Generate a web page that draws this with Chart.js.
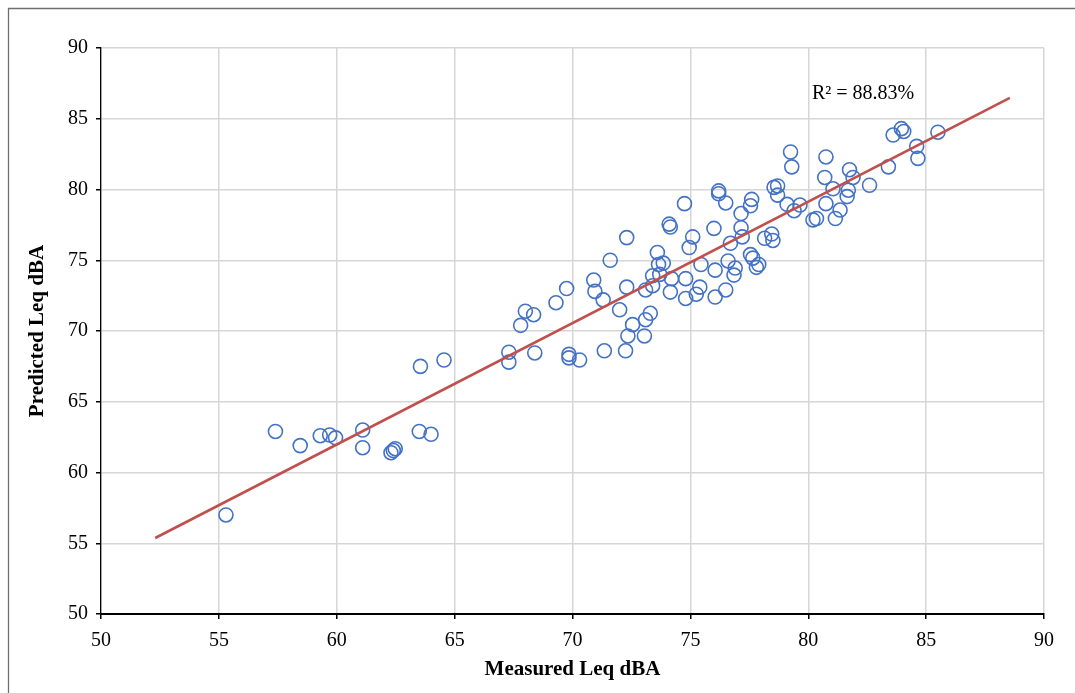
<!DOCTYPE html>
<html>
<head>
<meta charset="utf-8">
<script src="https://cdn.jsdelivr.net/npm/chart.js@4.4.1/dist/chart.umd.min.js"></script>
<style>
  html, body { margin: 0; padding: 0; background: #fff; }
  #wrap { position: relative; width: 1075px; height: 693px; }
  canvas { display: block; }
</style>
</head>
<body>
<div id="wrap"><canvas id="c" width="1075" height="693"></canvas></div>
<script>
// ---- Data ----
const measured = [
  55.3, 57.4, 58.45, 59.3, 59.7, 59.95, 61.1, 61.1, 62.3, 62.4, 62.48, 63.5, 64.0, 63.55, 64.55,
  67.3, 67.3, 68.4, 67.8, 68.0, 68.35, 69.3, 69.75, 69.85, 69.85, 70.3, 70.9, 70.95, 71.3, 71.35,
  71.6, 72.0, 72.25, 72.3, 72.3, 72.35, 72.55, 73.1, 73.1, 73.05, 73.3, 73.4, 73.4, 73.6, 73.65,
  73.85, 73.7, 74.1, 74.15, 74.15, 74.2, 74.75, 74.8, 74.8, 74.95, 75.1, 75.25, 75.4, 75.45, 76.0,
  76.05, 76.05, 76.2, 76.2, 76.5, 76.5, 76.6, 76.7, 76.85, 76.9, 77.15, 77.15, 77.2, 77.55, 77.6,
  77.55, 77.65, 77.8, 77.9, 78.15, 78.45, 78.5, 78.55, 78.7, 78.7, 79.1, 79.25, 79.3, 79.4, 79.65,
  80.2, 80.35, 80.7, 80.75, 80.75, 81.05, 81.15, 81.35, 81.7, 81.65, 81.75, 81.9, 82.6, 83.4, 83.6,
  83.95, 84.05, 84.6, 84.65, 85.5
];
const predicted = [
  57.0, 62.9, 61.9, 62.6, 62.65, 62.45, 63.0, 61.75, 61.4, 61.55, 61.68, 62.9, 62.7, 67.5, 67.95,
  68.5, 67.8, 68.45, 70.4, 71.4, 71.15, 72.0, 73.0, 68.35, 68.1, 67.95, 73.6, 72.8, 72.2, 68.6,
  75.0, 71.5, 68.6, 76.6, 73.1, 69.65, 70.45, 72.9, 70.8, 69.65, 71.25, 73.9, 73.2, 75.55, 74.7,
  74.8, 74.0, 77.55, 77.35, 72.75, 73.7, 79.0, 73.7, 72.3, 75.9, 76.65, 72.6, 73.1, 74.7, 77.25,
  74.3, 72.4, 79.9, 79.7, 79.05, 72.9, 74.95, 76.2, 73.95, 74.45, 78.3, 77.3, 76.65, 78.85, 79.3,
  75.4, 75.15, 74.5, 74.7, 76.55, 76.85, 76.4, 80.15, 80.25, 79.6, 78.95, 82.65, 81.6, 78.5, 78.9,
  77.85, 77.95, 80.85, 82.3, 79.0, 80.05, 77.95, 78.55, 79.95, 79.5, 81.4, 80.85, 80.3, 81.6, 83.85,
  84.3, 84.1, 83.05, 82.2, 84.05
];
const trendX = [52.3, 88.55];
const trendY = [55.37, 86.47];
const axisTicks = [50, 55, 60, 65, 70, 75, 80, 85, 90];
const rSquaredLabel = 'R² = 88.83%';
const xTitle = 'Measured Leq dBA';
const yTitle = 'Predicted Leq dBA';

// ---- Build ----
const SERIF = "'Liberation Serif', 'Times New Roman', serif";
const points = measured.map((x, i) => ({ x: x, y: predicted[i] }));
const trend = trendX.map((x, i) => ({ x: x, y: trendY[i] }));

const framePlugin = {
  id: 'frame',
  beforeDraw(chart) {
    const ctx = chart.ctx;
    ctx.save();
    ctx.fillStyle = '#ffffff';
    ctx.fillRect(0, 0, chart.width, chart.height);
    ctx.strokeStyle = '#6e6e6e';
    ctx.lineWidth = 1.3;
    ctx.beginPath();
    ctx.moveTo(8.5, chart.height + 5);
    ctx.lineTo(8.5, 8.5);
    ctx.lineTo(chart.width + 5, 8.5);
    ctx.stroke();
    ctx.restore();
  },
  afterDraw(chart) {
    const ctx = chart.ctx;
    ctx.save();
    ctx.font = '20px ' + SERIF;
    ctx.fillStyle = '#000';
    ctx.textAlign = 'left';
    ctx.textBaseline = 'alphabetic';
    ctx.fillText(rSquaredLabel, 812, 99);
    ctx.restore();
  }
};

new Chart(document.getElementById('c'), {
  type: 'scatter',
  data: {
    datasets: [
      {
        type: 'line',
        label: 'Trend',
        data: trend,
        borderColor: '#C0504D',
        borderWidth: 2.6,
        pointRadius: 0,
        fill: false,
        order: 0
      },
      {
        label: 'Points',
        data: points,
        pointStyle: 'circle',
        pointRadius: 7,
        borderWidth: 1.6,
        borderColor: '#4472C4',
        backgroundColor: 'rgba(0,0,0,0)',
        showLine: false,
        order: 1
      }
    ]
  },
  options: {
    responsive: false,
    animation: false,
    events: [],
    layout: { padding: { top: 48, right: 31, bottom: 0, left: 0 } },
    plugins: { legend: { display: false }, tooltip: { enabled: false } },
    scales: {
      x: {
        type: 'linear',
        min: 50, max: 90,
        afterBuildTicks(scale) { scale.ticks = axisTicks.map(v => ({ value: v })); },
        afterFit(scale) { scale.height = 79; },
        ticks: { color: '#000', font: { family: SERIF, size: 20 }, padding: 10, maxRotation: 0 },
        grid: { color: '#d6d6d6', lineWidth: 1.5, tickColor: '#000', tickLength: 5, drawTicks: true },
        border: { color: '#000', width: 2 },
        title: {
          display: true, text: xTitle, color: '#000',
          font: { family: SERIF, size: 21, weight: 'bold' },
          padding: { top: 0, bottom: 11 }
        }
      },
      y: {
        type: 'linear',
        min: 50, max: 90,
        afterBuildTicks(scale) { scale.ticks = axisTicks.map(v => ({ value: v })); },
        afterFit(scale) { scale.width = 101; },
        ticks: { color: '#000', font: { family: SERIF, size: 20 }, padding: 8 },
        grid: { color: '#d6d6d6', lineWidth: 1.5, tickColor: '#000', tickLength: 5, drawTicks: true },
        border: { color: '#000', width: 1.3 },
        title: {
          display: true, text: yTitle, color: '#000',
          font: { family: SERIF, size: 21, weight: 'bold' },
          padding: { top: 25, bottom: 0 }
        }
      }
    }
  },
  plugins: [framePlugin]
});
</script>
</body>
</html>
